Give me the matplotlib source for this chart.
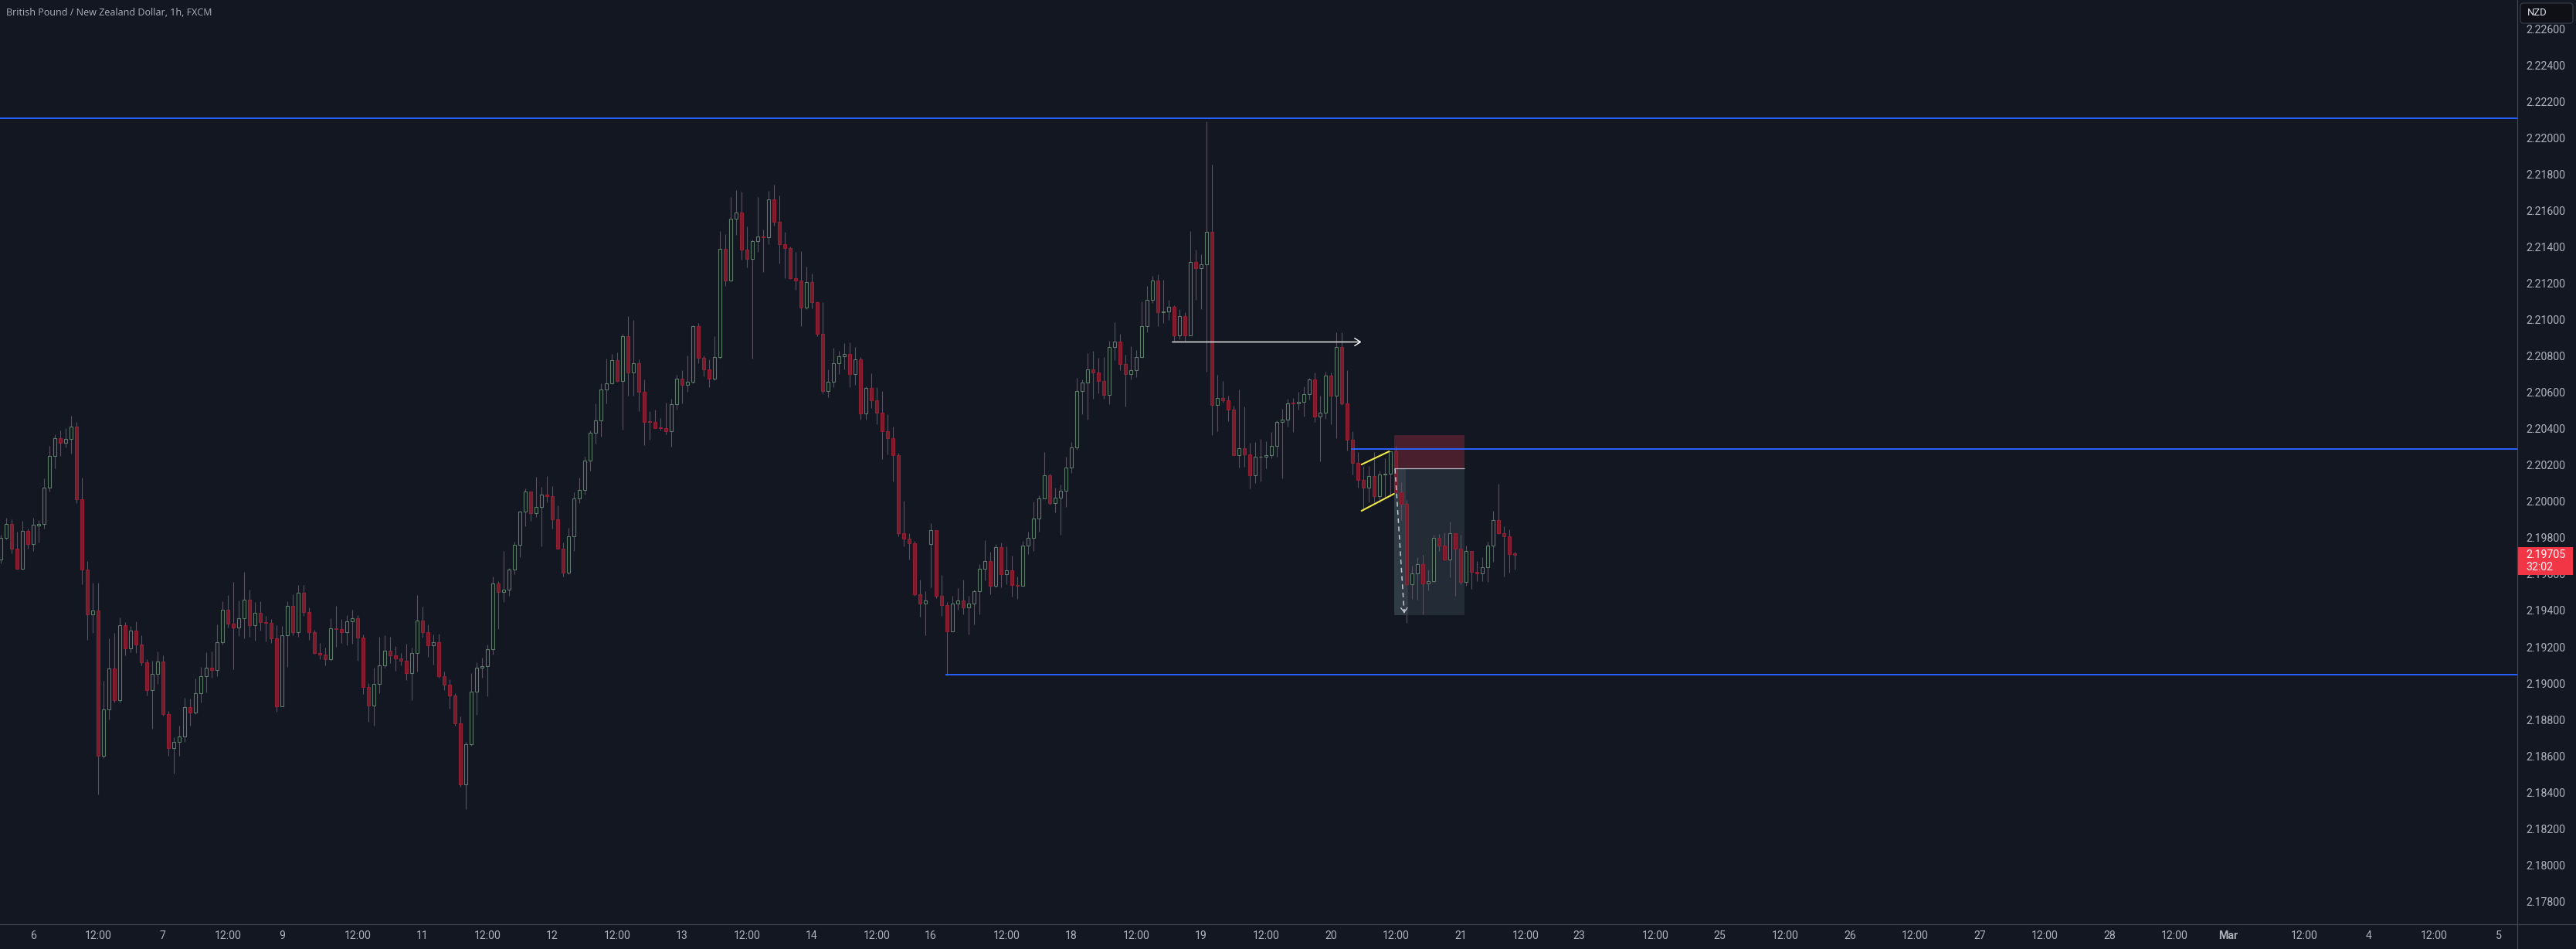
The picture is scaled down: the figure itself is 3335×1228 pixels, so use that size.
import numpy as np
import pandas as pd
import matplotlib
matplotlib.use("Agg")
import matplotlib.pyplot as plt
from matplotlib.patches import Rectangle, FancyBboxPatch

# ---- chart data: GBPNZD 1h, first bar 2025-02-05 18:00 ----
first_bar = "2025-02-05 18:00"

opens = [
    2.19679, 2.19799, 2.19874, 2.19738, 2.19631, 2.19836, 2.19764, 2.19869, 2.19874, 2.20077,
    2.20252, 2.20346, 2.20324, 2.20343, 2.20413, 2.20014, 2.19627, 2.19380, 2.19399, 2.18602,
    2.18855, 2.19082, 2.18905, 2.19321, 2.19190, 2.19290, 2.19214, 2.19113, 2.18960, 2.19050,
    2.19119, 2.18829, 2.18645, 2.18676, 2.18706, 2.18868, 2.18837, 2.18943, 2.19037, 2.19087,
    2.19071, 2.19224, 2.19402, 2.19327, 2.19308, 2.19356, 2.19458, 2.19318, 2.19388, 2.19334,
    2.19332, 2.19246, 2.18872, 2.19262, 2.19425, 2.19279, 2.19496, 2.19393, 2.19279, 2.19168,
    2.19157, 2.19130, 2.19301, 2.19299, 2.19279, 2.19340, 2.19356, 2.19249, 2.18977, 2.18879,
    2.18995, 2.19100, 2.19179, 2.19152, 2.19135, 2.19122, 2.19054, 2.19167, 2.19345, 2.19279,
    2.19207, 2.19224, 2.19037, 2.18990, 2.18931, 2.18781, 2.18442, 2.18663, 2.18953, 2.19084,
    2.19093, 2.19187, 2.19548, 2.19500, 2.19513, 2.19624, 2.19760, 2.19943, 2.20055, 2.19937,
    2.19968, 2.20037, 2.20027, 2.19900, 2.19738, 2.19607, 2.19810, 2.20018, 2.20062, 2.20223,
    2.20379, 2.20444, 2.20616, 2.20648, 2.20779, 2.20663, 2.20910, 2.20707, 2.20762, 2.20601,
    2.20439, 2.20437, 2.20405, 2.20404, 2.20384, 2.20534, 2.20673, 2.20640, 2.20657, 2.20963,
    2.20788, 2.20728, 2.20673, 2.20796, 2.21388, 2.21217, 2.21553, 2.21591, 2.21384, 2.21335,
    2.21433, 2.21456, 2.21454, 2.21661, 2.21536, 2.21414, 2.21392, 2.21229, 2.21213, 2.21065,
    2.21208, 2.21098, 2.20921, 2.20608, 2.20657, 2.20762, 2.20800, 2.20809, 2.20699, 2.20783,
    2.20485, 2.20623, 2.20555, 2.20489, 2.20384, 2.20346, 2.20255, 2.19825, 2.19794, 2.19768,
    2.19487, 2.19436, 2.19764, 2.19840, 2.19481, 2.19428, 2.19286, 2.19436, 2.19453, 2.19415,
    2.19440, 2.19504, 2.19629, 2.19671, 2.19534, 2.19749, 2.19601, 2.19620, 2.19538, 2.19536,
    2.19756, 2.19798, 2.19904, 2.20018, 2.20143, 2.19992, 2.20022, 2.20060, 2.20185, 2.20297,
    2.20606, 2.20654, 2.20728, 2.20707, 2.20661, 2.20585, 2.20851, 2.20881, 2.20756, 2.20699,
    2.20722, 2.20792, 2.20963, 2.21107, 2.21213, 2.21039, 2.21046, 2.21069, 2.20915, 2.21021,
    2.20915, 2.21315, 2.21285, 2.21306, 2.21482, 2.20532, 2.20570, 2.20558, 2.20507, 2.20255,
    2.20293, 2.20259, 2.20145, 2.20245, 2.20247, 2.20253, 2.20306, 2.20437, 2.20450, 2.20541,
    2.20539, 2.20549, 2.20591, 2.20672, 2.20465, 2.20486, 2.20691, 2.20583, 2.20849, 2.20541,
    2.20340, 2.20213, 2.20120, 2.20075, 2.20141, 2.20027, 2.20149, 2.20151, 2.20274, 2.20052,
    2.19985, 2.19545, 2.19604, 2.19657, 2.19547, 2.19562, 2.19798, 2.19758, 2.19682, 2.19826,
    2.19741, 2.19555, 2.19729, 2.19614, 2.19602, 2.19640, 2.19758, 2.19898, 2.19826, 2.19809, 2.19714,
]
highs = [
    2.19815, 2.19909, 2.19900, 2.19834, 2.19891, 2.19849, 2.19909, 2.19898, 2.20125, 2.20306,
    2.20370, 2.20389, 2.20403, 2.20472, 2.20435, 2.20129, 2.19672, 2.19554, 2.19554, 2.19014,
    2.19248, 2.19277, 2.19360, 2.19338, 2.19314, 2.19342, 2.19262, 2.19133, 2.19124, 2.19176,
    2.19152, 2.18849, 2.18702, 2.18767, 2.18918, 2.18916, 2.19025, 2.19089, 2.19172, 2.19176,
    2.19323, 2.19450, 2.19484, 2.19557, 2.19456, 2.19613, 2.19515, 2.19447, 2.19450, 2.19369,
    2.19351, 2.19320, 2.19314, 2.19450, 2.19487, 2.19541, 2.19541, 2.19415, 2.19292, 2.19222,
    2.19194, 2.19356, 2.19426, 2.19351, 2.19373, 2.19402, 2.19375, 2.19268, 2.19001, 2.19087,
    2.19255, 2.19262, 2.19255, 2.19203, 2.19167, 2.19218, 2.19194, 2.19485, 2.19421, 2.19323,
    2.19268, 2.19273, 2.19065, 2.19023, 2.18945, 2.18816, 2.18676, 2.19056, 2.19115, 2.19141,
    2.19213, 2.19587, 2.19563, 2.19727, 2.19633, 2.19779, 2.19948, 2.20070, 2.20055, 2.20134,
    2.20079, 2.20140, 2.20085, 2.19976, 2.19773, 2.19856, 2.20051, 2.20129, 2.20247, 2.20389,
    2.20538, 2.20648, 2.20785, 2.20811, 2.20819, 2.20921, 2.21020, 2.20999, 2.20781, 2.20671,
    2.20496, 2.20504, 2.20460, 2.20542, 2.20563, 2.20695, 2.20722, 2.20802, 2.20967, 2.20982,
    2.20802, 2.20783, 2.20910, 2.21485, 2.21469, 2.21672, 2.21712, 2.21703, 2.21511, 2.21441,
    2.21672, 2.21494, 2.21707, 2.21741, 2.21684, 2.21483, 2.21401, 2.21373, 2.21378, 2.21291,
    2.21255, 2.21101, 2.21096, 2.20726, 2.20843, 2.20828, 2.20872, 2.20876, 2.20851, 2.20794,
    2.20633, 2.20705, 2.20627, 2.20606, 2.20479, 2.20411, 2.20265, 2.20003, 2.19825, 2.19781,
    2.19569, 2.19504, 2.19882, 2.19840, 2.19595, 2.19447, 2.19481, 2.19523, 2.19569, 2.19481,
    2.19514, 2.19656, 2.19785, 2.19724, 2.19764, 2.19772, 2.19753, 2.19701, 2.19586, 2.19781,
    2.19834, 2.20001, 2.20033, 2.20272, 2.20153, 2.20077, 2.20092, 2.20244, 2.20327, 2.20678,
    2.20671, 2.20815, 2.20828, 2.20790, 2.20794, 2.20883, 2.20986, 2.20923, 2.20805, 2.20853,
    2.20834, 2.21101, 2.21187, 2.21240, 2.21249, 2.21219, 2.21109, 2.21079, 2.21057, 2.21040,
    2.21486, 2.21385, 2.21359, 2.22089, 2.21852, 2.20695, 2.20661, 2.20581, 2.20528, 2.20615,
    2.20520, 2.20323, 2.20325, 2.20342, 2.20331, 2.20380, 2.20446, 2.20511, 2.20564, 2.20570,
    2.20604, 2.20634, 2.20678, 2.20708, 2.20581, 2.20712, 2.20708, 2.20930, 2.20930, 2.20720,
    2.20386, 2.20270, 2.20196, 2.20196, 2.20270, 2.20171, 2.20238, 2.20276, 2.20304, 2.20105,
    2.20006, 2.19646, 2.19693, 2.19705, 2.19625, 2.19815, 2.19820, 2.19828, 2.19887, 2.19826,
    2.19815, 2.19756, 2.19729, 2.19671, 2.19695, 2.19779, 2.19948, 2.20096, 2.19862, 2.19847, 2.19724,
]
lows = [
    2.19661, 2.19793, 2.19714, 2.19627, 2.19627, 2.19738, 2.19729, 2.19775, 2.19852, 2.20053,
    2.20180, 2.20249, 2.20297, 2.20263, 2.19992, 2.19544, 2.19240, 2.19277, 2.18387, 2.18590,
    2.18802, 2.18894, 2.18894, 2.19152, 2.19172, 2.19167, 2.19096, 2.18934, 2.18748, 2.18997,
    2.18822, 2.18599, 2.18501, 2.18602, 2.18678, 2.18768, 2.18831, 2.18894, 2.18949, 2.19028,
    2.19037, 2.19213, 2.19305, 2.19078, 2.19261, 2.19248, 2.19255, 2.19235, 2.19288, 2.19231,
    2.19222, 2.18844, 2.18872, 2.19091, 2.19264, 2.19255, 2.19369, 2.19240, 2.19163, 2.19130,
    2.19098, 2.19124, 2.19200, 2.19222, 2.19209, 2.19218, 2.19124, 2.18942, 2.18789, 2.18765,
    2.18945, 2.19087, 2.19111, 2.19069, 2.19098, 2.19019, 2.18908, 2.19065, 2.19249, 2.19143,
    2.19102, 2.19028, 2.18964, 2.18861, 2.18765, 2.18429, 2.18306, 2.18654, 2.18824, 2.19028,
    2.18927, 2.19157, 2.19299, 2.19447, 2.19480, 2.19598, 2.19692, 2.19865, 2.19891, 2.19913,
    2.19753, 2.19996, 2.19852, 2.19738, 2.19585, 2.19600, 2.19727, 2.19992, 2.20038, 2.20169,
    2.20319, 2.20356, 2.20538, 2.20644, 2.20656, 2.20394, 2.20580, 2.20580, 2.20496, 2.20310,
    2.20339, 2.20401, 2.20392, 2.20369, 2.20301, 2.20506, 2.20538, 2.20604, 2.20650, 2.20762,
    2.20686, 2.20629, 2.20667, 2.20785, 2.21185, 2.21211, 2.21464, 2.21331, 2.21287, 2.20785,
    2.21373, 2.21261, 2.21414, 2.21515, 2.21308, 2.21227, 2.21223, 2.21166, 2.20965, 2.21056,
    2.21060, 2.20910, 2.20593, 2.20574, 2.20629, 2.20701, 2.20726, 2.20629, 2.20640, 2.20449,
    2.20449, 2.20513, 2.20424, 2.20231, 2.20259, 2.20109, 2.19808, 2.19753, 2.19679, 2.19481,
    2.19364, 2.19265, 2.19529, 2.19466, 2.19371, 2.19043, 2.19286, 2.19402, 2.19377, 2.19269,
    2.19322, 2.19377, 2.19565, 2.19491, 2.19529, 2.19529, 2.19544, 2.19476, 2.19462, 2.19536,
    2.19709, 2.19726, 2.19832, 2.20018, 2.19982, 2.19940, 2.19815, 2.19971, 2.20157, 2.20284,
    2.20481, 2.20451, 2.20563, 2.20595, 2.20563, 2.20536, 2.20779, 2.20720, 2.20523, 2.20669,
    2.20684, 2.20788, 2.20931, 2.21092, 2.20963, 2.20980, 2.20997, 2.20883, 2.20894, 2.20883,
    2.20915, 2.21110, 2.21057, 2.20714, 2.20363, 2.20386, 2.20545, 2.20443, 2.20255, 2.20185,
    2.20192, 2.20073, 2.20101, 2.20111, 2.20181, 2.20238, 2.20245, 2.20128, 2.20410, 2.20380,
    2.20507, 2.20467, 2.20562, 2.20439, 2.20221, 2.20454, 2.20424, 2.20346, 2.20530, 2.20281,
    2.20149, 2.20075, 2.19951, 2.19995, 2.19995, 2.19995, 2.20023, 2.20027, 2.20048, 2.19896,
    2.19333, 2.19464, 2.19460, 2.19378, 2.19509, 2.19557, 2.19727, 2.19676, 2.19583, 2.19481,
    2.19545, 2.19536, 2.19519, 2.19562, 2.19562, 2.19555, 2.19667, 2.19820, 2.19589, 2.19610, 2.19625,
]
closes = [
    2.19799, 2.19874, 2.19738, 2.19631, 2.19836, 2.19764, 2.19871, 2.19874, 2.20077, 2.20252,
    2.20346, 2.20324, 2.20343, 2.20411, 2.20014, 2.19627, 2.19380, 2.19399, 2.18602, 2.18855,
    2.19082, 2.18905, 2.19321, 2.19190, 2.19290, 2.19214, 2.19113, 2.18960, 2.19050, 2.19119,
    2.18829, 2.18645, 2.18676, 2.18706, 2.18868, 2.18837, 2.18943, 2.19037, 2.19087, 2.19071,
    2.19224, 2.19402, 2.19327, 2.19308, 2.19356, 2.19458, 2.19318, 2.19388, 2.19334, 2.19332,
    2.19246, 2.18872, 2.19262, 2.19425, 2.19279, 2.19496, 2.19393, 2.19279, 2.19168, 2.19157,
    2.19130, 2.19301, 2.19299, 2.19279, 2.19340, 2.19356, 2.19249, 2.18977, 2.18879, 2.18995,
    2.19100, 2.19179, 2.19152, 2.19135, 2.19122, 2.19054, 2.19167, 2.19345, 2.19279, 2.19207,
    2.19224, 2.19037, 2.18990, 2.18931, 2.18781, 2.18442, 2.18663, 2.18953, 2.19084, 2.19093,
    2.19187, 2.19548, 2.19500, 2.19513, 2.19624, 2.19760, 2.19943, 2.20055, 2.19937, 2.19968,
    2.20037, 2.20027, 2.19900, 2.19738, 2.19607, 2.19810, 2.20018, 2.20062, 2.20223, 2.20379,
    2.20444, 2.20616, 2.20648, 2.20779, 2.20663, 2.20910, 2.20707, 2.20762, 2.20601, 2.20439,
    2.20437, 2.20405, 2.20404, 2.20384, 2.20534, 2.20673, 2.20640, 2.20657, 2.20963, 2.20788,
    2.20728, 2.20673, 2.20796, 2.21388, 2.21217, 2.21553, 2.21591, 2.21384, 2.21335, 2.21433,
    2.21456, 2.21454, 2.21661, 2.21536, 2.21414, 2.21392, 2.21229, 2.21213, 2.21065, 2.21208,
    2.21098, 2.20921, 2.20608, 2.20657, 2.20762, 2.20800, 2.20809, 2.20699, 2.20783, 2.20485,
    2.20623, 2.20555, 2.20489, 2.20384, 2.20346, 2.20255, 2.19825, 2.19794, 2.19768, 2.19487,
    2.19436, 2.19457, 2.19840, 2.19481, 2.19428, 2.19286, 2.19436, 2.19453, 2.19415, 2.19440,
    2.19504, 2.19629, 2.19671, 2.19534, 2.19749, 2.19601, 2.19620, 2.19538, 2.19536, 2.19756,
    2.19798, 2.19904, 2.20018, 2.20143, 2.19992, 2.20022, 2.20060, 2.20185, 2.20297, 2.20606,
    2.20654, 2.20728, 2.20707, 2.20661, 2.20585, 2.20851, 2.20881, 2.20756, 2.20699, 2.20722,
    2.20792, 2.20963, 2.21107, 2.21213, 2.21039, 2.21046, 2.21069, 2.20915, 2.21021, 2.20915,
    2.21315, 2.21285, 2.21306, 2.21482, 2.20532, 2.20570, 2.20558, 2.20507, 2.20255, 2.20293,
    2.20259, 2.20145, 2.20245, 2.20247, 2.20253, 2.20306, 2.20437, 2.20450, 2.20541, 2.20539,
    2.20549, 2.20591, 2.20672, 2.20465, 2.20486, 2.20691, 2.20583, 2.20849, 2.20541, 2.20340,
    2.20213, 2.20120, 2.20075, 2.20141, 2.20027, 2.20149, 2.20151, 2.20274, 2.20052, 2.19985,
    2.19545, 2.19604, 2.19657, 2.19547, 2.19562, 2.19798, 2.19758, 2.19682, 2.19826, 2.19741,
    2.19555, 2.19729, 2.19614, 2.19602, 2.19640, 2.19758, 2.19898, 2.19826, 2.19809, 2.19709, 2.19705,
]

# time axis labels
tick_times = [
    "2025-02-06 00:00", "2025-02-06 12:00", "2025-02-07 00:00", "2025-02-07 12:00",
    "2025-02-09 22:00", "2025-02-10 12:00", "2025-02-11 00:00", "2025-02-11 12:00",
    "2025-02-12 00:00", "2025-02-12 12:00", "2025-02-13 00:00", "2025-02-13 12:00",
    "2025-02-14 00:00", "2025-02-14 12:00", "2025-02-16 22:00", "2025-02-17 12:00",
    "2025-02-18 00:00", "2025-02-18 12:00", "2025-02-19 00:00", "2025-02-19 12:00",
    "2025-02-20 00:00", "2025-02-20 12:00", "2025-02-21 00:00", "2025-02-21 12:00",
    "2025-02-23 22:00", "2025-02-24 12:00", "2025-02-25 00:00", "2025-02-25 12:00",
    "2025-02-26 00:00", "2025-02-26 12:00", "2025-02-27 00:00", "2025-02-27 12:00",
    "2025-02-28 00:00", "2025-02-28 12:00", "2025-03-02 22:00", "2025-03-03 12:00",
    "2025-03-04 00:00", "2025-03-04 12:00", "2025-03-05 00:00",
]
tick_labels = [
    "6", "12:00", "7", "12:00", "9", "12:00", "11", "12:00", "12", "12:00", "13", "12:00",
    "14", "12:00", "16", "12:00", "18", "12:00", "19", "12:00", "20", "12:00", "21", "12:00",
    "23", "12:00", "25", "12:00", "26", "12:00", "27", "12:00", "28", "12:00", "Mar", "12:00",
    "4", "12:00", "5",
]
price_ticks = np.arange(2.178, 2.2265, 0.002)

# drawings (x in bars from Feb 6 00:00, y in price)
hlines_level = [2.22109, 2.20288, 2.19045]
hlines_start = [None, 243.7, 168.8]
arrow_x = [210.7, 245.7]
arrow_y = 2.20877
channel_top = ([245.7, 250.8], [2.20203, 2.20275])
channel_bot = ([245.7, 251.7], [2.19948, 2.20042])
pos_x = [251.7, 264.8]
pos_stop, pos_entry, pos_target = 2.20365, 2.20183, 2.19376
pos_done_x = 253.9
path_x = [251.9, 253.6]
path_y = [2.20179, 2.19386]
countdown = "32:02"

# ---- colors ----
BG = "#131722"
UP = "#5c7b69"
DN_FILL = "#7a1c2c"
DN_EDGE = "#921f34"
WICK = "#5a5061"
TXT = "#aeb1ba"
AXLINE = "#434651"
BLUE = "#2962ff"

W, H = 3335, 1228
fig = plt.figure(figsize=(W / 100, H / 100), dpi=100, facecolor=BG)
ax = fig.add_axes([0, 32 / H, 3259.5 / W, 1196 / H])
ax.set_facecolor(BG)

# bar index from the trading calendar (fx closes Fri 22:00, opens Sun 22:00)
hours = pd.date_range(first_bar, "2025-03-06 00:00", freq="h")
wd, hr = hours.weekday, hours.hour
is_open = ~((wd == 4) & (hr >= 22)) & (wd != 5) & ~((wd == 6) & (hr < 22))
cal = pd.Series(np.arange(is_open.sum()), index=hours[is_open])
origin = cal[pd.Timestamp("2025-02-06 00:00")]

o, h, l, c = (np.array(v) for v in (opens, highs, lows, closes))
x = np.arange(len(c)) - origin
up = c >= o

ax.vlines(x, l, h, color=WICK, lw=0.8, zorder=2)
body_lo = np.minimum(o, c)
body_h = np.maximum(np.abs(c - o), 0.000025)
ax.bar(x[up], body_h[up], bottom=body_lo[up], width=0.64, facecolor=BG,
       edgecolor=UP, linewidth=0.8, zorder=3)
ax.bar(x[~up], body_h[~up], bottom=body_lo[~up], width=0.64, facecolor=DN_FILL,
       edgecolor=DN_EDGE, linewidth=0.8, zorder=3)

xmin, xmax = -6.114, 459.53
ax.set_xlim(xmin, xmax)
ax.set_ylim(2.17674, 2.22758)

# horizontal levels
for lev, st in zip(hlines_level, hlines_start):
    ax.hlines(lev, xmin if st is None else st, xmax, color=BLUE, lw=1.4, zorder=4)

# white arrow
ax.annotate("", xy=(arrow_x[1], arrow_y), xytext=(arrow_x[0], arrow_y),
            arrowprops=dict(arrowstyle="->,head_length=0.55,head_width=0.35",
                            color="white", lw=1.0, shrinkA=0, shrinkB=0), zorder=5)

# parallel channel
ax.plot(*channel_top, color="#f0e84a", lw=1.5, zorder=5, solid_capstyle="round")
ax.plot(*channel_bot, color="#f0e84a", lw=1.5, zorder=5, solid_capstyle="round")

# short position tool
pw = pos_x[1] - pos_x[0]
ax.add_patch(Rectangle((pos_x[0], pos_entry), pw, pos_stop - pos_entry,
                       facecolor="#4a1f2d", edgecolor="none", zorder=1))
ax.add_patch(Rectangle((pos_x[0], pos_target), pw, pos_entry - pos_target,
                       facecolor="#232b36", edgecolor="none", zorder=1))
ax.add_patch(Rectangle((pos_x[0], pos_target), pos_done_x - pos_x[0], pos_entry - pos_target,
                       facecolor="#2f3c46", edgecolor="none", zorder=1))
ax.hlines(pos_entry, pos_x[0], pos_x[1], color="#b8bbc4", lw=0.9, zorder=4)
ax.plot(path_x, path_y, color="#c3c6ce", lw=1.1, ls=(0, (4, 3)), zorder=5)
ax.annotate("", xy=(path_x[1], path_y[1]), xytext=(path_x[1] - 0.02, path_y[1] + 0.0002),
            arrowprops=dict(arrowstyle="->,head_length=0.4,head_width=0.3",
                            color="#c3c6ce", lw=1.0, shrinkA=0, shrinkB=0), zorder=5)

# axes / ticks
for s in ax.spines.values():
    s.set_visible(False)
tick_x = cal[pd.to_datetime(tick_times)].values - origin
ax.set_xticks(tick_x, tick_labels)
ax.set_yticks(price_ticks, [f"{v:.5f}" for v in price_ticks])
ax.yaxis.tick_right()
ax.tick_params(axis="x", length=0, pad=6, labelsize=10.2, labelcolor=TXT)
ax.tick_params(axis="y", length=0, pad=7.6, labelsize=10.2, labelcolor=TXT)
for t in ax.get_xticklabels() + ax.get_yticklabels():
    t.set_fontfamily("Roboto")
for t in ax.get_xticklabels():
    if t.get_text() == "Mar":
        t.set_fontweight("bold")

# overlay in pixel space for the price scale widgets
ov = fig.add_axes([0, 0, 1, 1], zorder=5)
ov.set_xlim(0, W)
ov.set_ylim(H, 0)
ov.axis("off")
ov.patch.set_alpha(0)
ov.plot([3259.5, 3259.5], [0, H], color=AXLINE, lw=0.9)
ov.plot([0, W], [1196, 1196], color=AXLINE, lw=0.9)

fig.canvas.draw()
yc = H - ax.transData.transform((0, c[-1]))[1]
ov.add_patch(Rectangle((3260, yc - 10.5), 71, 36.5, facecolor="#f23645", edgecolor="none"))
ov.text(3270, yc, f"{c[-1]:.5f}", color="white", fontsize=10.2, family="Roboto",
        va="center", ha="left")
ov.text(3270, yc + 15.3, countdown, color="#f5f5f5", fontsize=10.2, family="Roboto",
        va="center", ha="left")

ov.add_patch(FancyBboxPatch((3263, 4), 68, 26, boxstyle="round,pad=0,rounding_size=4",
                            facecolor="#0e1016", edgecolor="#3a3e49", lw=0.8))
ov.text(3272, 17, "NZD", color="#e0e3eb", fontsize=9.4, family="Roboto",
        va="center", ha="left")

fig.text(8 / W, 1 - 16 / H, "British Pound / New Zealand Dollar, 1h, FXCM",
         color=TXT, fontsize=9.0, family="Open Sans", va="center", ha="left")

fig.savefig("out.png", dpi=100, facecolor=BG)
